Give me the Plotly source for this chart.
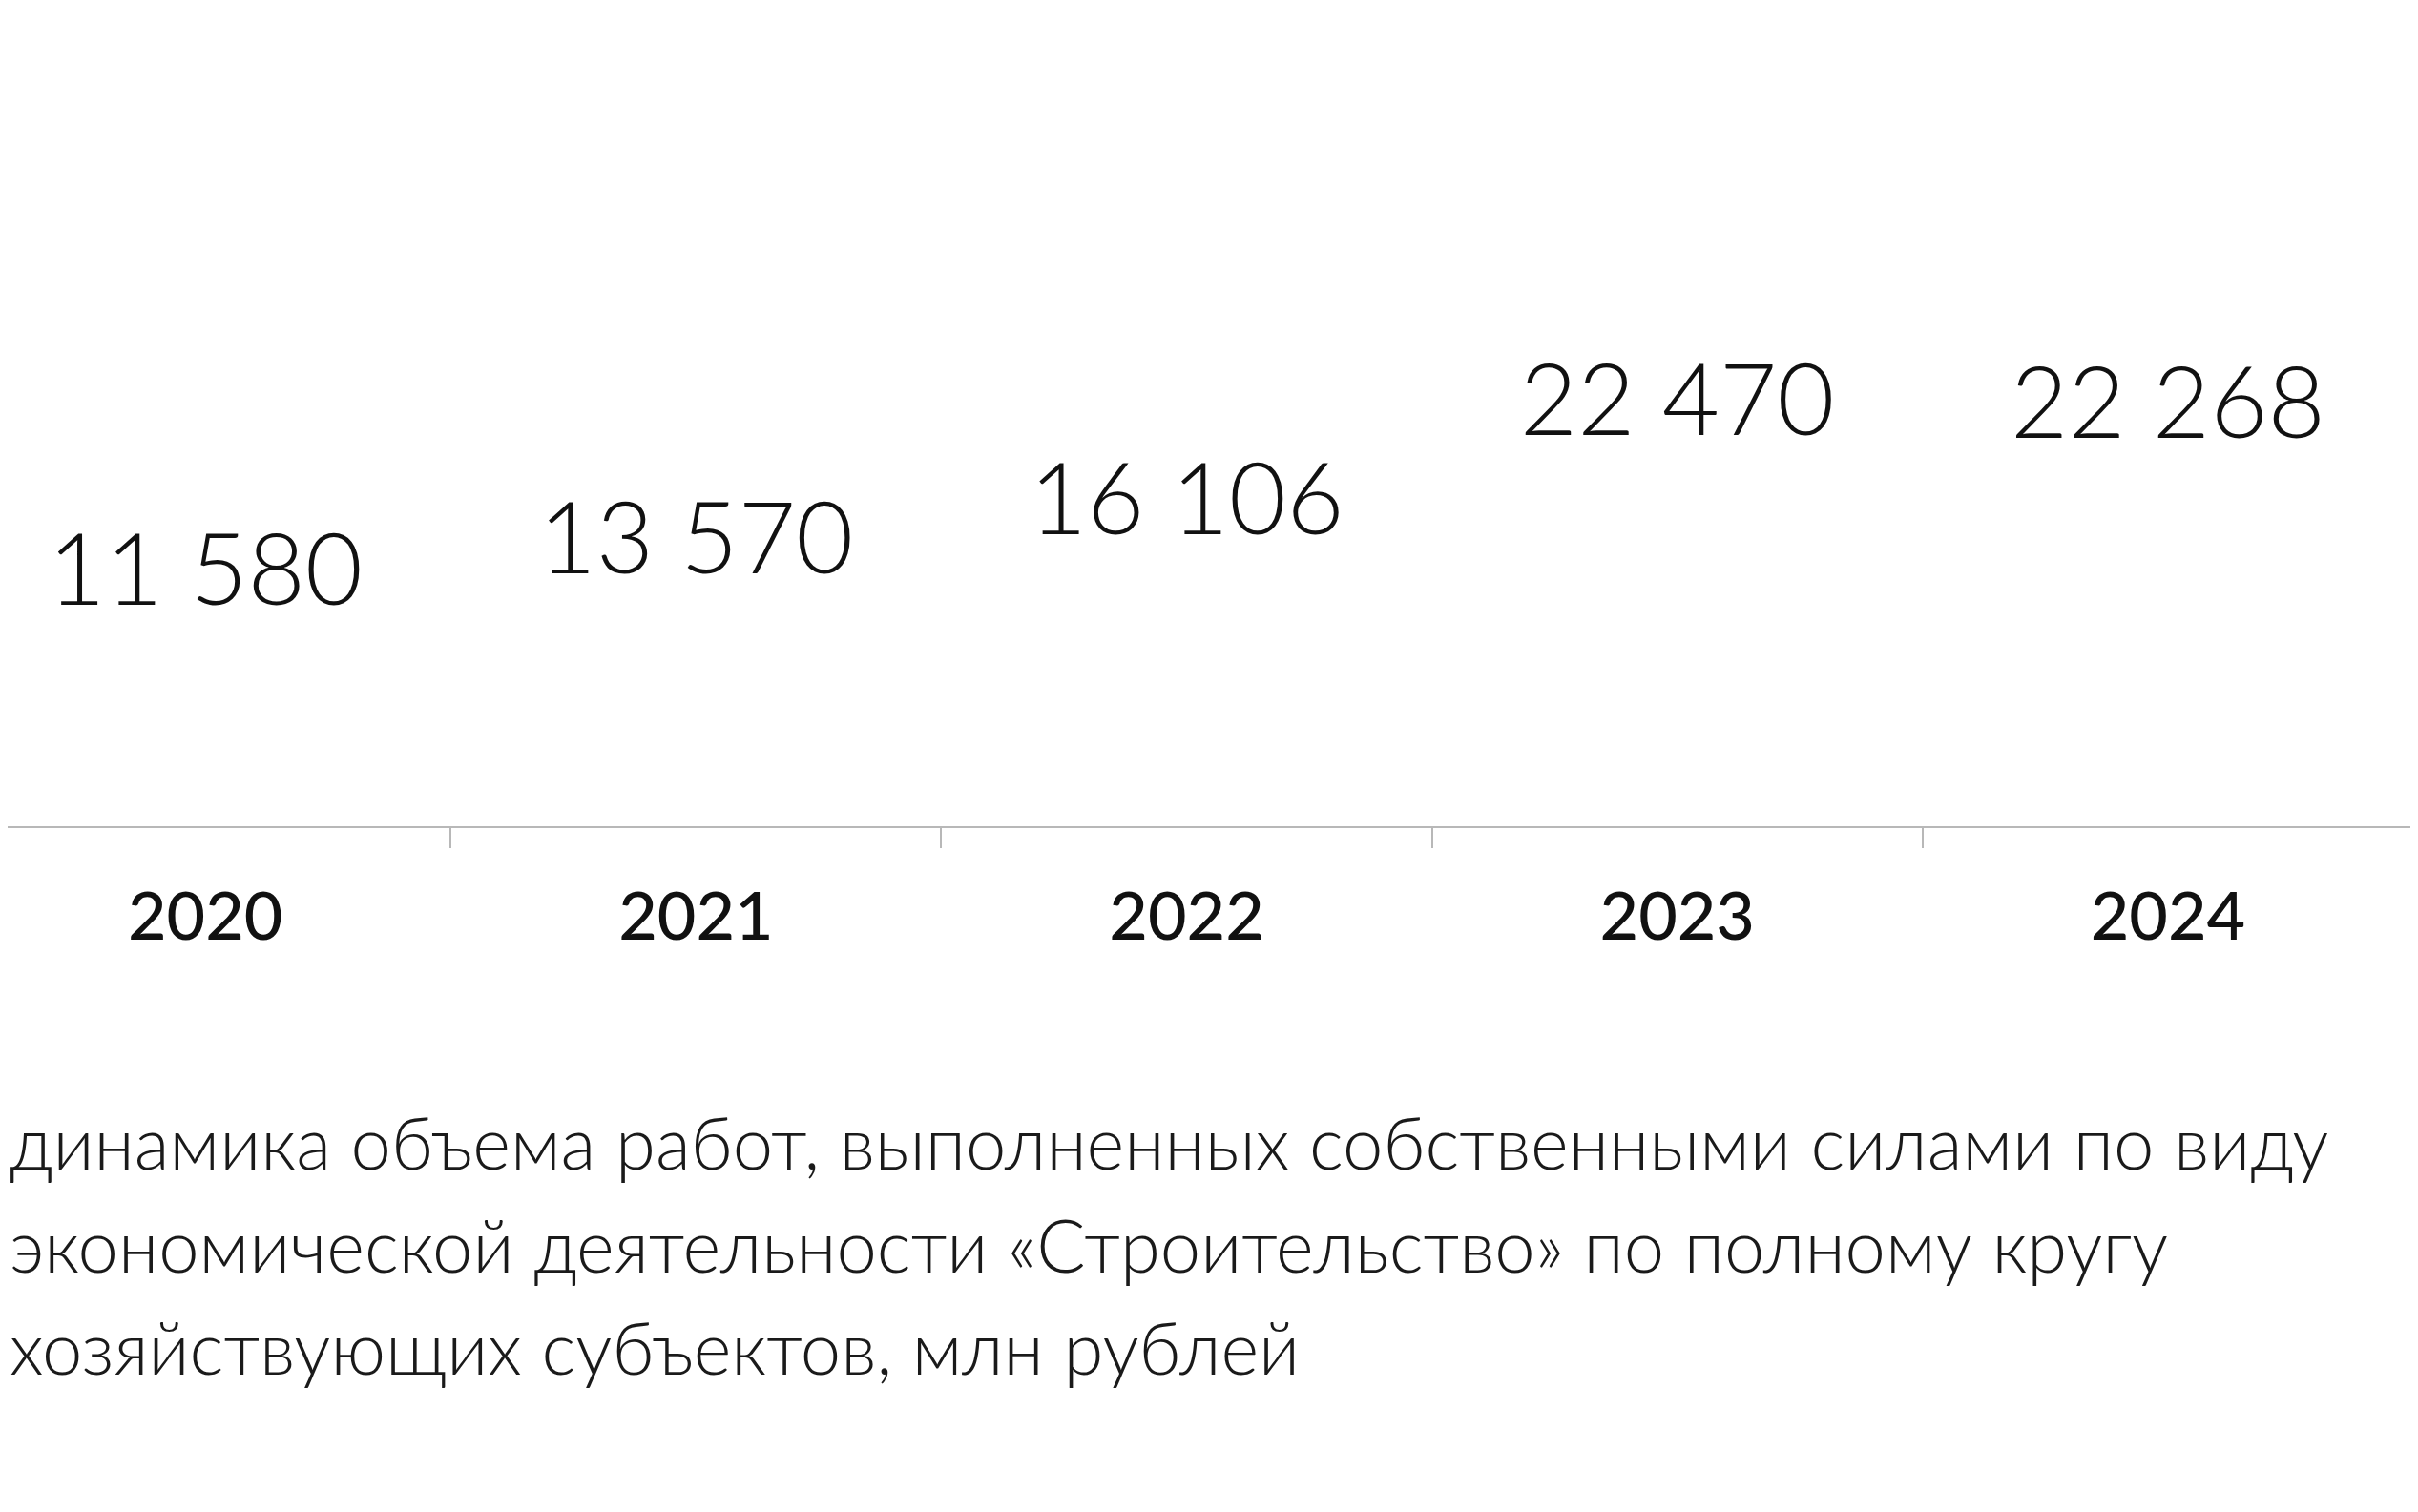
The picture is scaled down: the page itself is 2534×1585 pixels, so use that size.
import plotly.graph_objects as go

years = ["2020", "2021", "2022", "2023", "2024"]
values = [11580, 13570, 16106, 22470, 22268]
value_labels = ["11 580", "13 570", "16 106", "22 470", "22 268"]
caption_lines = [
    "динамика объема работ, выполненных собственными силами по виду",
    "экономической деятельности «Строительство» по полному кругу",
    "хозяйствующих субъектов, млн рублей",
]

# page has an 8px body margin; size the figure so it ends at the window edge
W, H = 2526, 1577
AXIS_PX = 858
PLOT_W = W - 5
fig = go.Figure()
fig.add_trace(go.Scatter(
    x=years, y=values, mode="text", text=value_labels,
    textposition="middle center",
    textfont=dict(family="Lato", size=104, color="#111111", weight=300),
    hoverinfo="skip", showlegend=False,
))

fig.update_layout(
    width=W, height=H,
    margin=dict(l=0, r=5, t=0, b=H - AXIS_PX, pad=0),
    paper_bgcolor="white", plot_bgcolor="white",
    showlegend=False,
    xaxis=dict(
        type="category", range=[-0.403, 4.5], automargin=False,
        showgrid=False, zeroline=False,
        showline=True, linecolor="#b8b8b8", linewidth=2,
        ticks="outside", tickson="boundaries", ticklen=21,
        tickcolor="#b8b8b8", tickwidth=2,
        ticklabelstandoff=33,
        tickfont=dict(family="Lato", size=70, color="#111111", weight=500),
    ),
    yaxis=dict(range=[-4221, 48269], visible=False, showgrid=False,
               zeroline=False, automargin=False),
)

centers_px = [1188, 1296, 1403]
for line, py in zip(caption_lines, centers_px):
    fig.add_annotation(
        text=line, xref="paper", yref="paper",
        x=0, y=(AXIS_PX - py) / AXIS_PX,
        xanchor="left", yanchor="middle", showarrow=False,
        font=dict(family="Lato", size=76, color="#1a1a1a", weight=300),
    )

fig.write_html("out.html")
